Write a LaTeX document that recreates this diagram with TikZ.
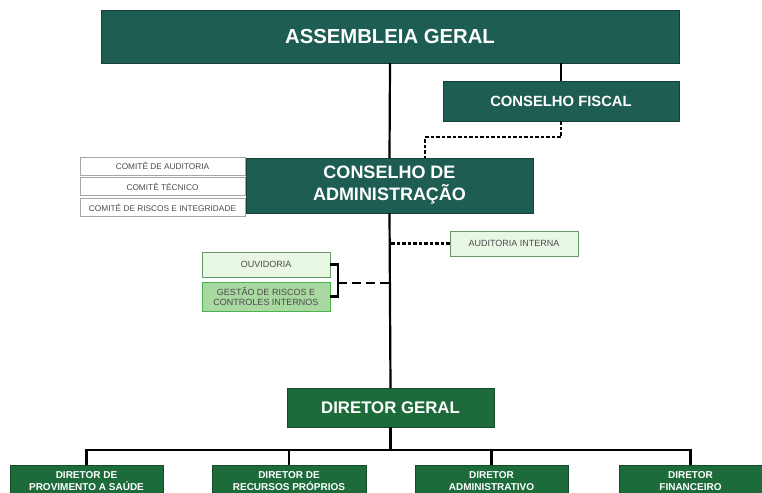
\documentclass[tikz,border=0pt]{standalone}
\usepackage{fontspec}
\setmainfont{Liberation Sans}
\usetikzlibrary{positioning}
\definecolor{teal1}{HTML}{1E5D52}
\definecolor{green1}{HTML}{1D6B3B}
\definecolor{light1}{HTML}{E9F7E5}
\definecolor{mid1}{HTML}{A9D9A0}
\definecolor{txt1}{HTML}{4A4A4A}
\begin{document}
\begin{tikzpicture}[x=1pt,y=-1pt,
    topbox/.style={fill=teal1,draw=teal1!70!black,text=white,font=\bfseries,align=center,inner sep=0pt},
    dirbox/.style={fill=green1,draw=green1!70!black,text=white,font=\bfseries,align=center,inner sep=0pt},
    comite/.style={fill=white,draw=gray!70,line width=0.8pt,text=txt1,font=\fontsize{8.3}{9}\selectfont,minimum width=165pt,minimum height=18pt,inner sep=0pt},
    apoio/.style={fill=light1,draw=gray!80!green,line width=0.8pt,text=txt1,font=\fontsize{9}{10.5}\selectfont,align=center,minimum width=128pt,inner sep=0pt},
    link/.style={line width=2.2pt},
    dotlink/.style={line width=2.2pt,dash pattern=on 3.5pt off 2pt},
    dashlink/.style={line width=2.2pt,dash pattern=on 9pt off 5pt}]
  \useasboundingbox (0,0) rectangle (762,492);
  \clip (0,0) rectangle (762,492);

  \node[topbox,minimum width=578pt,minimum height=53pt,font=\bfseries\fontsize{20.3}{24}\selectfont] (ag) at (390,36.5) {ASSEMBLEIA GERAL};
  \node[topbox,minimum width=236pt,minimum height=40pt,font=\bfseries\fontsize{14.8}{17}\selectfont] (cf) at (561,101) {CONSELHO FISCAL};
  \node[topbox,minimum width=287pt,minimum height=55pt,font=\bfseries\fontsize{18}{22}\selectfont] (ca) at (389.5,185.5) {CONSELHO DE\\ADMINISTRAÇÃO};

  \node[comite] (c_1) at (162.5,166) {COMITÊ DE AUDITORIA};
  \node[comite] (c_2) [below=2pt of c_1] {COMITÊ TÉCNICO};
  \node[comite] (c_3) [below=2pt of c_2] {COMITÊ DE RISCOS E INTEGRIDADE};

  \node[apoio,minimum height=25pt] (ai) at (514,243.5) {AUDITORIA INTERNA};
  \node[apoio,minimum height=25pt] (ov) at (266,264.5) {OUVIDORIA};
  \node[apoio,minimum height=29pt,fill=mid1,draw=green!40!gray] (gr) at (266,296.5) {GESTÃO DE RISCOS E\\CONTROLES INTERNOS};

  \node[dirbox,minimum width=207pt,minimum height=39pt,font=\bfseries\fontsize{16.8}{20}\selectfont] (dg) at (390.5,407.5) {DIRETOR GERAL};

  \node[dirbox,minimum width=153pt,minimum height=32pt,font=\bfseries\fontsize{10}{12}\selectfont] (d_1) at (86.5,481) {DIRETOR DE\\PROVIMENTO A SAÚDE};
  \node[dirbox,minimum width=154pt,minimum height=32pt,font=\bfseries\fontsize{10}{12}\selectfont] (d_2) at (289,481) {DIRETOR DE\\RECURSOS PRÓPRIOS};
  \node[dirbox,minimum width=153pt,minimum height=32pt,font=\bfseries\fontsize{10}{12}\selectfont] (d_3) at (491.5,481) {DIRETOR\\ADMINISTRATIVO};
  \node[dirbox,minimum width=143pt,minimum height=32pt,font=\bfseries\fontsize{10}{12}\selectfont] (d_4) at (690.5,481) {DIRETOR\\FINANCEIRO};

  % ligacoes
  \draw[link] (ag.south) -- (ca.north);
  \draw[link] (ca.south) -- (dg.north);
  \draw[link] (cf.north) -- (cf.north |- ag.south);
  \draw[dotlink] (cf.south) -- ++(0,16) -| (425,158);
  \draw[dotlink] (ai.west) -- (ai.west -| ca.south);
  \coordinate (br) at (338,283);
  \draw[link] (ov.east) -| (br) |- (gr.east);
  \draw[dashlink] (br) -- (br -| ca.south);
  \coordinate (bus) at (390.5,450);
  \draw[link] (dg.south) -- (bus);
  \draw[link] (d_1.north) |- (bus) -| (d_4.north);
  \draw[link] (d_2.north) -- (d_2.north |- bus);
  \draw[link] (d_3.north) -- (d_3.north |- bus);
\end{tikzpicture}
\end{document}
